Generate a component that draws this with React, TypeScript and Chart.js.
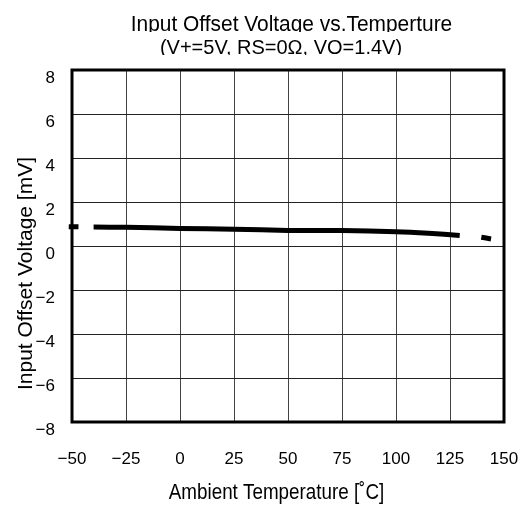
import React, { useEffect, useRef } from "react";
import { Chart, registerables } from "chart.js";

Chart.register(...registerables);

const titleText = "Input Offset Voltage vs.Temperture";
const subtitleText = "(V+=5V, RS=0\u03A9, VO=1.4V)";
const xAxisTitle = "Ambient Temperature [\u02DAC]";
const yAxisTitle = "Input Offset Voltage [mV]";

const xTicks = [-50, -25, 0, 25, 50, 75, 100, 125, 150];
const yTicks = [-8, -6, -4, -2, 0, 2, 4, 6, 8];

// null entries leave the gaps seen in the reference curve
const temperatures = [-51.5, -47, -43, -40, -25, 0, 25, 50, 75, 100, 115, 129.5, 135, 139.5, 144];
const offsetVoltages = [0.88, 0.87, null, 0.86, 0.85, 0.8, 0.76, 0.71, 0.7, 0.65, 0.58, 0.48, null, 0.4, 0.32];

const FONT = "'Liberation Sans', Arial, Helvetica, sans-serif";

const minus = (v: number) => String(v).replace("-", "\u2212");

const drawCondensed = (ctx: any, text: string, x: number, y: number, size: number, sx: number) => {
  ctx.save();
  ctx.translate(x, y);
  ctx.scale(sx, 1);
  ctx.font = `${size}px ${FONT}`;
  ctx.fillText(text, 0, 0);
  ctx.restore();
};

const decorPlugin = {
  id: "decor",
  beforeDatasetsDraw(chart: any) {
    const { ctx, chartArea } = chart;
    ctx.save();
    ctx.strokeStyle = "#000";
    ctx.lineWidth = 3;
    ctx.strokeRect(chartArea.left, chartArea.top, chartArea.right - chartArea.left, chartArea.bottom - chartArea.top);
    ctx.restore();
  },
  afterDraw(chart: any) {
    const { ctx } = chart;
    ctx.save();
    ctx.fillStyle = "#000";
    ctx.textAlign = "center";
    ctx.textBaseline = "alphabetic";

    // titles (clipped at the baseline like the reference)
    ctx.save();
    ctx.beginPath();
    ctx.rect(0, 0, chart.width, 32);
    ctx.clip();
    drawCondensed(ctx, titleText, 291.5, 31, 22, 0.95);
    ctx.restore();

    ctx.save();
    ctx.beginPath();
    ctx.rect(0, 33, chart.width, 22);
    ctx.clip();
    drawCondensed(ctx, subtitleText, 281, 54, 20, 1);
    ctx.restore();

    drawCondensed(ctx, xAxisTitle, 276.5, 499, 21.5, 0.875);

    ctx.save();
    ctx.translate(32, 273.5);
    ctx.rotate(-Math.PI / 2);
    ctx.font = `21px ${FONT}`;
    ctx.fillText(yAxisTitle, 0, 0);
    ctx.restore();

    ctx.restore();
  },
};

export default function App() {
  const canvasRef = useRef<HTMLCanvasElement | null>(null);

  useEffect(() => {
    const canvas = canvasRef.current;
    if (!canvas) return;
    const points = temperatures.map((t, i) => ({ x: t, y: offsetVoltages[i] }));
    const chart = new Chart(canvas, {
      type: "line",
      data: {
        datasets: [
          {
            data: points as any,
            borderColor: "#000",
            borderWidth: 5,
            pointRadius: 0,
            tension: 0.2,
            spanGaps: false,
            clip: false as any,
            borderCapStyle: "butt",
          },
        ],
      },
      options: {
        animation: false,
        responsive: false,
        maintainAspectRatio: false,
        layout: { padding: { top: 70, right: 22, left: 0, bottom: 0 } },
        plugins: {
          legend: { display: false },
          tooltip: { enabled: false },
          title: { display: false },
        },
        scales: {
          x: {
            type: "linear",
            min: -50,
            max: 150,
            afterBuildTicks: (scale: any) => {
              scale.ticks = xTicks.map((v) => ({ value: v }));
            },
            afterFit: (scale: any) => {
              scale.height = 83;
              scale.paddingLeft = 0;
              scale.paddingRight = 0;
            },
            grid: { color: "#444", lineWidth: 1, drawTicks: false },
            border: { display: false },
            ticks: {
              padding: 27,
              color: "#000",
              font: { family: FONT, size: 17 },
              maxRotation: 0,
              autoSkip: false,
              callback: (v: any) => minus(v),
            },
          },
          y: {
            type: "linear",
            min: -8,
            max: 8,
            afterBuildTicks: (scale: any) => {
              scale.ticks = yTicks.map((v) => ({ value: v }));
            },
            afterFit: (scale: any) => {
              scale.width = 72;
              scale.paddingTop = 0;
              scale.paddingBottom = 0;
            },
            grid: { color: "#222", lineWidth: 1, drawTicks: false },
            border: { display: false },
            ticks: {
              padding: 17,
              labelOffset: 8,
              color: "#000",
              font: { family: FONT, size: 17 },
              autoSkip: false,
              callback: (v: any) => minus(v),
            },
          },
        },
      },
      plugins: [decorPlugin],
    });
    return () => chart.destroy();
  }, []);

  return (
    <div style={{ position: "absolute", left: 0, top: 0, width: 526, height: 505, background: "#fff" }}>
      <canvas ref={canvasRef} width={526} height={505} style={{ display: "block", width: 526, height: 505 }} />
    </div>
  );
}
